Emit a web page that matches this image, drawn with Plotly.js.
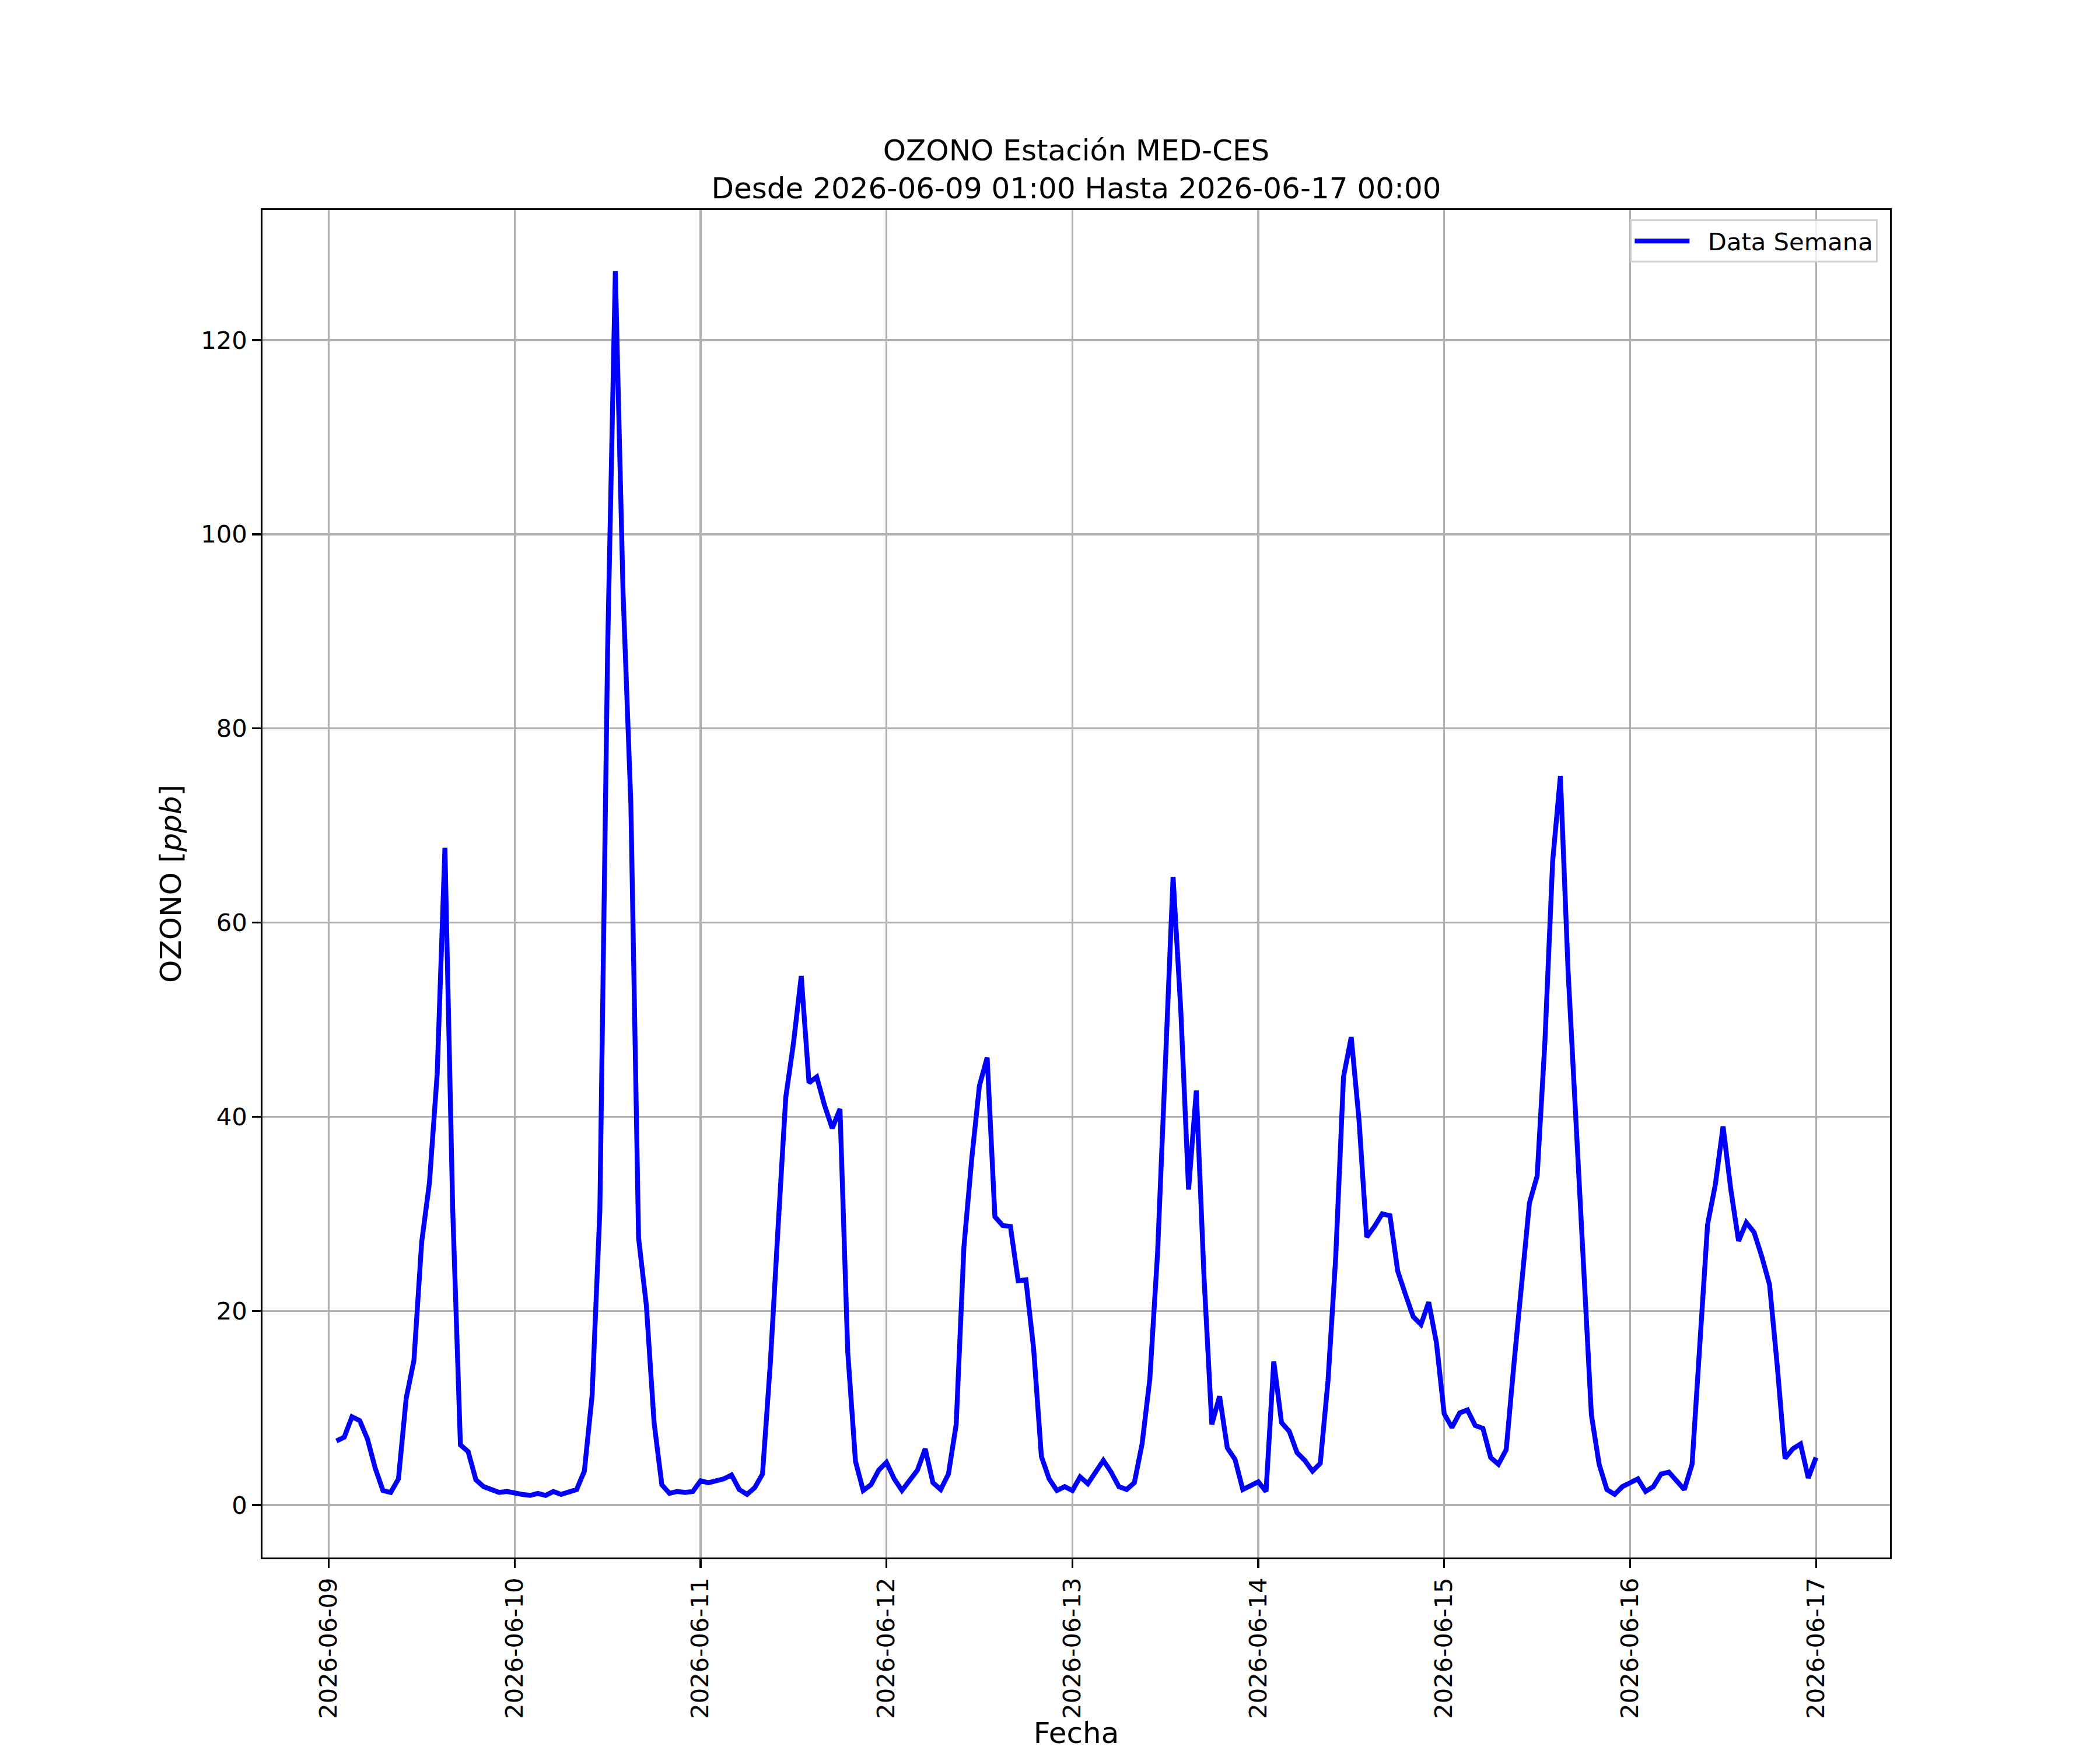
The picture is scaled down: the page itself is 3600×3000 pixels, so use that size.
<!DOCTYPE html>
<html>
<head>
<meta charset="utf-8">
<script src="https://cdn.plot.ly/plotly-3.0.1.min.js"></script>
<style>
  html, body { margin: 0; padding: 0; background: #ffffff; }
  #chart { width: 3600px; height: 3000px; }
</style>
</head>
<body>
<div id="chart"></div>
<script>
// Days of the week shown (each array holds hours 01:00 ... 24:00 of that day)
const dayLabels = ['2026-06-09', '2026-06-10', '2026-06-11', '2026-06-12',
                   '2026-06-13', '2026-06-14', '2026-06-15', '2026-06-16'];

const day0609 = [6.6, 7.0, 9.1, 8.7, 6.8, 3.8, 1.5, 1.3, 2.7, 11.0, 14.9, 27.1, 33.2, 44.4, 67.7, 30.6, 6.2, 5.5, 2.6, 1.9, 1.6, 1.3, 1.4, 1.2];
const day0610 = [1.1, 1.0, 1.2, 1.0, 1.4, 1.1, 1.4, 1.6, 3.5, 11.3, 30.3, 88.0, 127.1, 93.9, 72.3, 27.5, 20.6, 8.5, 2.1, 1.2, 1.4, 1.3, 1.4, 2.5];
const day0611 = [2.3, 2.5, 2.7, 3.1, 1.6, 1.1, 1.8, 3.2, 14.5, 28.5, 42.0, 47.6, 54.5, 43.5, 44.1, 41.2, 38.8, 40.8, 15.8, 4.5, 1.5, 2.1, 3.6, 4.4];
const day0612 = [2.7, 1.5, 2.6, 3.6, 5.8, 2.3, 1.6, 3.2, 8.3, 26.6, 35.6, 43.2, 46.1, 29.7, 28.8, 28.7, 23.1, 23.2, 16.1, 5.0, 2.7, 1.5, 1.9, 1.5];
const day0613 = [2.9, 2.2, 3.4, 4.6, 3.4, 1.9, 1.6, 2.3, 6.3, 13.0, 26.0, 45.5, 64.7, 50.9, 32.5, 42.7, 23.4, 8.3, 11.2, 5.9, 4.7, 1.6, 2.0, 2.4];
const day0614 = [1.4, 14.8, 8.5, 7.6, 5.4, 4.6, 3.5, 4.3, 12.8, 25.6, 44.1, 48.2, 39.7, 27.6, 28.7, 30.0, 29.8, 24.1, 21.7, 19.4, 18.6, 20.9, 16.7, 9.4];
const day0615 = [8.0, 9.5, 9.8, 8.2, 7.9, 4.9, 4.2, 5.7, 14.5, 23.0, 31.1, 33.9, 47.7, 66.3, 75.1, 54.9, 39.8, 23.3, 9.3, 4.2, 1.6, 1.1, 1.9, 2.3];
const day0616 = [2.7, 1.4, 1.9, 3.2, 3.4, 2.5, 1.6, 4.2, 16.5, 28.9, 33.0, 39.0, 32.5, 27.2, 29.1, 28.1, 25.6, 22.7, 14.3, 4.8, 5.8, 6.3, 2.8, 4.9];

const dailySeries = [day0609, day0610, day0611, day0612, day0613, day0614, day0615, day0616];

const titleText = 'OZONO Estación MED-CES<br>Desde 2026-06-09 01:00 Hasta 2026-06-17 00:00';
const xTitle = 'Fecha';
const yTitle = 'OZONO [<i>ppb</i>]';
const seriesName = 'Data Semana';
const yTicks = [0, 20, 40, 60, 80, 100, 120];

// Build hourly timestamps from the day labels
function pad(n) { return (n < 10 ? '0' : '') + n; }
const xs = [];
const ys = [];
dailySeries.forEach(function (vals, d) {
  const base = new Date(dayLabels[d] + 'T00:00:00Z').getTime();
  vals.forEach(function (v, i) {
    const t = new Date(base + (i + 1) * 3600000);
    xs.push(t.getUTCFullYear() + '-' + pad(t.getUTCMonth() + 1) + '-' + pad(t.getUTCDate()) +
            ' ' + pad(t.getUTCHours()) + ':00');
    ys.push(v);
  });
});

const FONT = 'DejaVu Sans, Liberation Sans, sans-serif';
const PT = 300 / 72;

const trace = {
  x: xs,
  y: ys,
  type: 'scatter',
  mode: 'lines',
  name: '\u00a0\u00a0' + seriesName,
  showlegend: true,
  line: { color: '#0000ff', width: 2 * PT }
};

const layout = {
  width: 3600,
  height: 3000,
  paper_bgcolor: '#ffffff',
  plot_bgcolor: '#ffffff',
  font: { family: FONT, color: '#000000', size: 10 * PT },
  margin: { l: 450, r: 360, t: 360, b: 330, pad: 0 },
  title: {
    text: titleText,
    font: { family: FONT, size: 12 * PT, color: '#000000' },
    x: 0.5, xref: 'paper', xanchor: 'center',
    y: 1, yref: 'paper', yanchor: 'bottom',
    pad: { b: 85 }
  },
  showlegend: true,
  legend: {
    x: 0.9925, xanchor: 'right',
    y: 0.993, yanchor: 'top',
    bgcolor: 'rgba(255,255,255,0.8)',
    bordercolor: 'rgba(204,204,204,0.9)',
    borderwidth: 3.3,
    itemwidth: 94,
    font: { family: FONT, size: 10 * PT, color: '#000000' }
  },
  xaxis: {
    type: 'date',
    range: ['2026-06-08 15:27', '2026-06-17 09:33'],
    tick0: '2026-06-09',
    dtick: 86400000,
    tickformat: '%Y-%m-%d',
    tickangle: -90,
    ticks: 'outside',
    ticklen: 3.5 * PT,
    tickwidth: 0.8 * PT,
    tickcolor: '#000000',
    tickfont: { family: FONT, size: 10 * PT, color: '#000000' },
    showgrid: true,
    gridcolor: '#b0b0b0',
    gridwidth: 0.8 * PT,
    zeroline: false,
    showline: true,
    linecolor: '#000000',
    linewidth: 0.8 * PT,
    mirror: true,
    automargin: false,
    title: { text: xTitle, font: { family: FONT, size: 12 * PT, color: '#000000' }, standoff: 24 }
  },
  yaxis: {
    range: [-5.4, 133.4],
    tickmode: 'array',
    tickvals: yTicks,
    ticktext: yTicks.map(String),
    ticks: 'outside',
    ticklen: 3.5 * PT,
    tickwidth: 0.8 * PT,
    tickcolor: '#000000',
    tickfont: { family: FONT, size: 10 * PT, color: '#000000' },
    showgrid: true,
    gridcolor: '#b0b0b0',
    gridwidth: 0.8 * PT,
    zeroline: false,
    showline: true,
    linecolor: '#000000',
    linewidth: 0.8 * PT,
    mirror: true,
    automargin: false,
    title: { text: yTitle, font: { family: FONT, size: 12 * PT, color: '#000000' }, standoff: 18 }
  }
};

Plotly.newPlot('chart', [trace], layout, { staticPlot: true, displayModeBar: false });
</script>
</body>
</html>
